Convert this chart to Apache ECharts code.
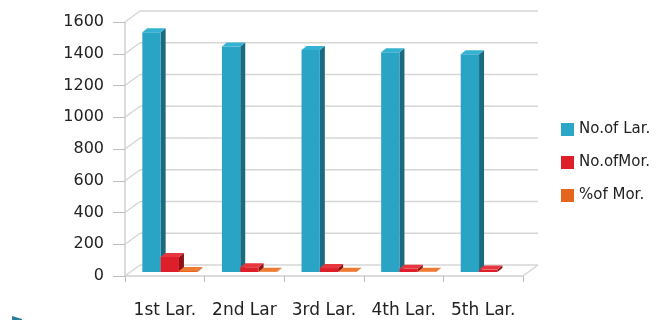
<!DOCTYPE html>
<html>
<head>
<meta charset="utf-8">
<script src="https://cdn.jsdelivr.net/npm/echarts@6/dist/echarts.min.js"></script>
<style>
  html, body { margin: 0; padding: 0; background: #ffffff; }
  #chart { width: 672px; height: 320px; }
</style>
</head>
<body>
<div id="chart"></div>
<script>
// Larval stages and counts
const categories = ['1st Lar.', '2nd Lar', '3rd Lar.', '4th Lar.', '5th Lar.'];
const larvae = [1510, 1420, 1398, 1385, 1372];
const mortality = [95, 30, 25, 20, 15];
const mortalityPct = [6.3, 2.1, 1.8, 1.4, null];
const yTicks = [0, 200, 400, 600, 800, 1000, 1200, 1400, 1600];
const seriesNames = ['No.of Lar.', 'No.ofMor.', '%of Mor.'];

// Pseudo-3D depth of the walls and of the columns
const WALL_DX = 15, WALL_DY = -11;
const BAR_SHIFT_X = 5, BAR_SHIFT_Y = -4;
const BAR_DX = 5, BAR_DY = -4;

const palette = [
  { front: '#2aa4c4', side: '#1a6a80', top: '#35b2d1', legend: '#2aa6c6' },
  { front: '#dc1f29', side: '#8e1218', top: '#e8363f', legend: '#dc1f29' },
  { front: '#e6651c', side: '#a94510', top: '#ee7a33', legend: '#e6651c' }
];

function columnRenderer(slot) {
  return function (params, api) {
    const v = api.value(1);
    if (v == null || isNaN(v)) return;
    const idx = api.value(0);
    const base = api.coord([idx, 0]);
    const top = api.coord([idx, v]);
    const band = api.size([1, 0])[0];
    const w = band * 0.23;
    const x0 = base[0] - 1.5 * w + slot * w + BAR_SHIFT_X;
    const yB = base[1] + BAR_SHIFT_Y;
    const yT = top[1] + BAR_SHIFT_Y;
    const c = palette[slot];
    return {
      type: 'group',
      children: [
        { type: 'polygon', shape: { points: [[x0 + w, yT], [x0 + w + BAR_DX, yT + BAR_DY], [x0 + w + BAR_DX, yB + BAR_DY], [x0 + w, yB]] }, style: { fill: c.side } },
        { type: 'rect', shape: { x: x0, y: yT, width: w, height: yB - yT }, style: { fill: c.front } },
        { type: 'polygon', shape: { points: [[x0, yT], [x0 + BAR_DX, yT + BAR_DY], [x0 + w + BAR_DX, yT + BAR_DY], [x0 + w, yT]] }, style: { fill: c.top } }
      ]
    };
  };
}

function wallRenderer(params, api) {
  const v = api.value(1);
  const cs = params.coordSys;
  const L = cs.x, R = cs.x + cs.width;
  const y = api.coord([0, v])[1];
  const line = { stroke: '#d6d6d6', lineWidth: 1.5 };
  const children = [
    { type: 'line', shape: { x1: L, y1: y, x2: L + WALL_DX, y2: y + WALL_DY }, style: line },
    { type: 'line', shape: { x1: L + WALL_DX, y1: y + WALL_DY, x2: R + WALL_DX, y2: y + WALL_DY }, style: line }
  ];
  if (v === 0) {
    children.push({ type: 'line', shape: { x1: R, y1: y, x2: R + WALL_DX, y2: y + WALL_DY }, style: line });
  }
  return { type: 'group', children: children };
}

const chart = echarts.init(document.getElementById('chart'), null, { renderer: 'canvas' });

chart.setOption({
  animation: false,
  backgroundColor: '#ffffff',
  textStyle: { fontFamily: 'DejaVu Sans' },
  grid: { left: 125, top: 22, width: 398, height: 254 },
  legend: {
    orient: 'vertical',
    left: 561,
    top: 122,
    padding: 0,
    itemWidth: 13,
    itemHeight: 13,
    itemGap: 18,
    icon: 'rect',
    textStyle: { fontSize: 15, color: '#222', fontFamily: 'DejaVu Sans' },
    data: seriesNames.map((n, i) => ({ name: n, itemStyle: { color: palette[i].legend } }))
  },
  xAxis: {
    type: 'category',
    data: categories,
    axisLine: { lineStyle: { color: '#d0d0d0', width: 1.5 } },
    axisTick: { show: true, alignWithLabel: false, interval: 0, length: 6, lineStyle: { color: '#bdbdbd' } },
    axisLabel: { fontSize: 17, color: '#222', margin: 26, interval: 0 }
  },
  yAxis: {
    type: 'value',
    min: 0,
    max: 1600,
    interval: 200,
    axisLine: { show: true, lineStyle: { color: '#d0d0d0', width: 1.5 } },
    axisTick: { show: true, length: 12, lineStyle: { color: '#bdbdbd' } },
    splitLine: { show: false },
    axisLabel: { fontSize: 16, color: '#222', margin: 21, formatter: v => String(v) }
  },
  series: [
    {
      type: 'custom',
      name: 'walls',
      silent: true,
      z: 1,
      renderItem: wallRenderer,
      encode: { x: 0, y: 1 },
      data: yTicks.map(v => [0, v])
    },
    {
      type: 'custom',
      name: seriesNames[0],
      z: 2,
      itemStyle: { color: palette[0].legend },
      renderItem: columnRenderer(0),
      encode: { x: 0, y: 1 },
      data: larvae.map((v, i) => [i, v])
    },
    {
      type: 'custom',
      name: seriesNames[1],
      z: 3,
      itemStyle: { color: palette[1].legend },
      renderItem: columnRenderer(1),
      encode: { x: 0, y: 1 },
      data: mortality.map((v, i) => [i, v])
    },
    {
      type: 'custom',
      name: seriesNames[2],
      z: 4,
      itemStyle: { color: palette[2].legend },
      renderItem: columnRenderer(2),
      encode: { x: 0, y: 1 },
      data: mortalityPct.map((v, i) => [i, v])
    }
  ],
  graphic: [
    { type: 'polygon', shape: { points: [[12, 316], [22, 319], [22, 320], [12, 320]] }, style: { fill: '#2b7d9c' } }
  ]
});
</script>
</body>
</html>
